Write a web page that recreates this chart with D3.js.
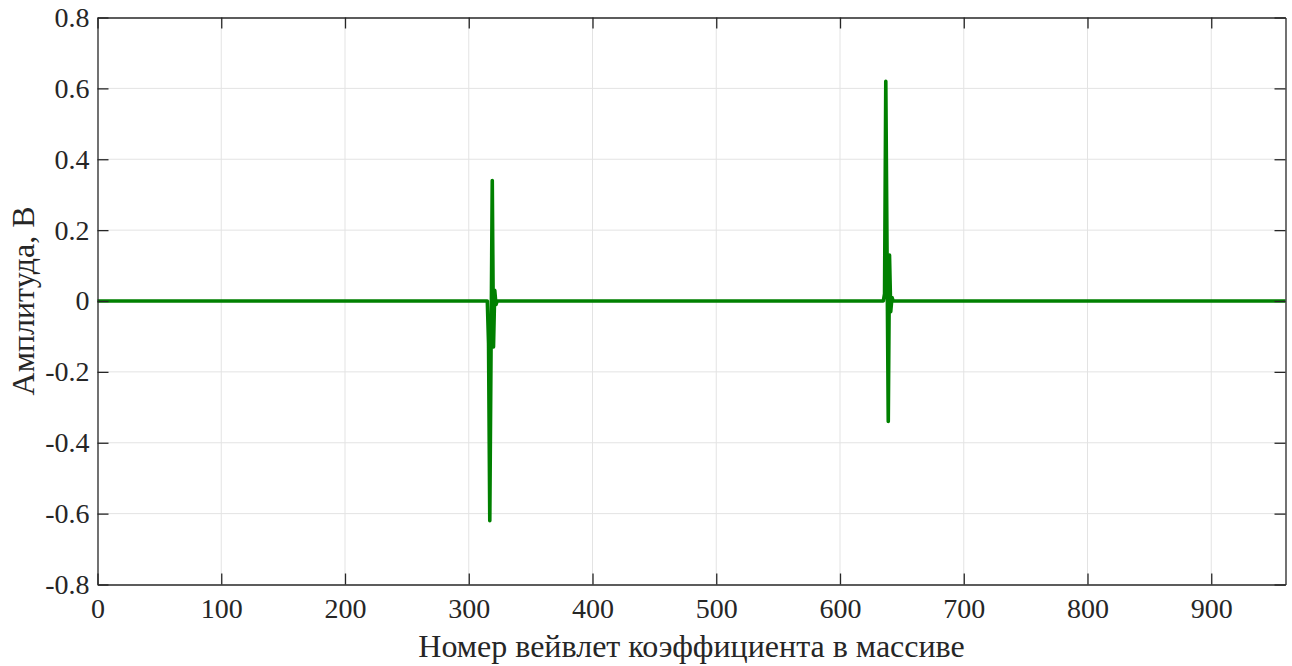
<!DOCTYPE html>
<html><head><meta charset="utf-8">
<script src="https://cdn.jsdelivr.net/npm/d3@7"></script>
<style>body{margin:0;background:#fff}svg{display:block}</style>
</head><body>
<svg id="c" width="1292" height="666"></svg>
<script>
// Coefficient index and amplitude (V); zero between listed points
const coefIndex = [0, 315, 316, 317, 318, 319, 320, 321, 322, 323, 635, 636, 637, 638, 639, 640, 641, 642, 643, 960];
const amplitude = [0, 0, -0.12, -0.62, -0.14, 0.34, -0.13, 0.03, -0.01, 0, 0, 0.02, 0.62, 0.14, -0.34, 0.13, -0.03, 0.01, 0, 0];
const xTicks = [0, 100, 200, 300, 400, 500, 600, 700, 800, 900];
const yTicks = [-0.8, -0.6, -0.4, -0.2, 0, 0.2, 0.4, 0.6, 0.8];
const xLabel = "Номер вейвлет коэффициента в массиве";
const yLabel = "Амплитуда, В";

const FONT = "'Liberation Serif', 'Times New Roman', serif";
const L = 97.5, R = 1285.5, T = 17.5, B = 584.5;
const svg = d3.select("#c");
const x = d3.scaleLinear().domain([0, 960]).range([L, R]);
const y = d3.scaleLinear().domain([-0.8, 0.8]).range([B, T]);
const fmt = v => v === 0 ? "0" : String(v);

// grid
svg.append("g").selectAll("line").data(xTicks.filter(d => d > 0)).join("line")
  .attr("x1", d => x(d)).attr("x2", d => x(d)).attr("y1", T).attr("y2", B)
  .attr("stroke", "#e3e3e3").attr("stroke-width", 1);
svg.append("g").selectAll("line").data(yTicks.filter(d => d > -0.8 && d < 0.8)).join("line")
  .attr("y1", d => y(d)).attr("y2", d => y(d)).attr("x1", L).attr("x2", R)
  .attr("stroke", "#e3e3e3").attr("stroke-width", 1);

// data line
const pts = coefIndex.map((c, i) => [c, amplitude[i]]);
svg.append("path").datum(pts)
  .attr("d", d3.line().x(d => x(d[0])).y(d => y(d[1])))
  .attr("fill", "none").attr("stroke", "#008000").attr("stroke-width", 3.6)
  .attr("stroke-linejoin", "round");

// axes (ticks inward, mirrored)
const tl = 11;
const xb = svg.append("g").attr("transform", `translate(0,${B})`)
  .call(d3.axisBottom(x).tickValues(xTicks).tickFormat(fmt).tickSizeInner(-tl).tickSizeOuter(0).tickPadding(14));
const xt = svg.append("g").attr("transform", `translate(0,${T})`)
  .call(d3.axisTop(x).tickValues(xTicks).tickFormat("").tickSizeInner(-tl).tickSizeOuter(0));
const yl = svg.append("g").attr("transform", `translate(${L},0)`)
  .call(d3.axisLeft(y).tickValues(yTicks).tickFormat(fmt).tickSizeInner(-tl).tickSizeOuter(0).tickPadding(8));
const yr = svg.append("g").attr("transform", `translate(${R},0)`)
  .call(d3.axisRight(y).tickValues(yTicks).tickFormat("").tickSizeInner(-tl).tickSizeOuter(0));
[xb, xt, yl, yr].forEach(g => {
  g.selectAll("path.domain").attr("stroke", "#262626").attr("stroke-width", 1.3);
  g.selectAll(".tick line").attr("stroke", "#262626").attr("stroke-width", 1.3);
  g.selectAll("text").style("font-family", FONT).style("font-size", "28px").attr("fill", "#262626");
});

svg.append("text").attr("x", (L + R) / 2).attr("y", 657).attr("text-anchor", "middle")
  .style("font-family", FONT).style("font-size", "32px").attr("fill", "#262626").text(xLabel);
svg.append("text").attr("transform", `translate(34,${(T + B) / 2}) rotate(-90)`).attr("text-anchor", "middle")
  .style("font-family", FONT).style("font-size", "32px").attr("fill", "#262626").text(yLabel);
</script>
</body></html>
